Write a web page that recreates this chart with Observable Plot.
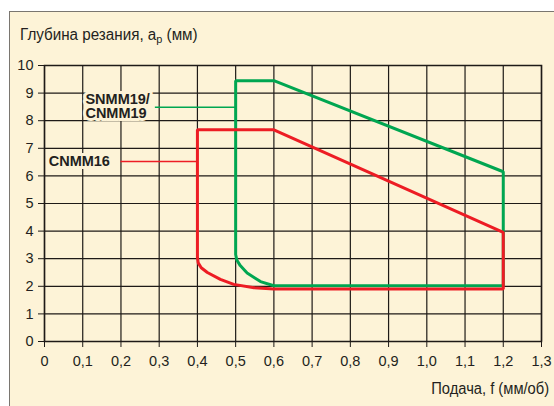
<!DOCTYPE html>
<html><head><meta charset="utf-8">
<script src="https://cdn.jsdelivr.net/npm/d3@7"></script>
<script src="https://cdn.jsdelivr.net/npm/@observablehq/plot@0.6"></script>
<style>
body{margin:0;background:#fff;width:554px;height:406px;overflow:hidden;position:relative;font-family:"Liberation Sans",Arial,sans-serif;color:#231f20;}
#frame{position:absolute;left:9px;top:11px;right:0;bottom:0;background:#fdf3d7;border-left:1.5px solid #7a7670;border-top:1.5px solid #7a7670;}
#chart{position:absolute;left:0;top:0;}
#title{position:absolute;left:20px;top:27px;font-size:16px;line-height:15px;white-space:nowrap;transform:scaleX(0.95);transform-origin:0 0;}
#title sub{font-size:11.5px;vertical-align:-3px;line-height:0;}
#xlabel{position:absolute;right:5px;top:381px;font-size:16px;line-height:15px;white-space:nowrap;transform:scaleX(0.92);transform-origin:100% 0;}
</style></head>
<body>
<div id="frame"></div>
<div id="chart"></div>
<div id="title">Глубина резания, a<sub>p</sub> (мм)</div>
<div id="xlabel">Подача, f (мм/об)</div>
<script>
// Ticks
const xTicks = [0, 0.1, 0.2, 0.3, 0.4, 0.5, 0.6, 0.7, 0.8, 0.9, 1.0, 1.1, 1.2, 1.3];
const xTickLabels = ["0", "0,1", "0,2", "0,3", "0,4", "0,5", "0,6", "0,7", "0,8", "0,9", "1,0", "1,1", "1,2", "1,3"];
const yTicks = [0, 1, 2, 3, 4, 5, 6, 7, 8, 9, 10];

// SNMM19 / CNMM19 region (green) — feed f, depth ap
const greenF  = [0.5, 0.5, 0.6, 1.2, 1.2, 0.6, 0.565, 0.53, 0.512, 0.503, 0.5];
const greenAp = [3.15, 9.45, 9.45, 6.15, 2.02, 2.02, 2.17, 2.48, 2.75, 2.95, 3.15];

// CNMM16 region (red)
const redF  = [0.4, 0.4, 0.6, 1.2, 1.2, 0.6, 0.548, 0.495, 0.46, 0.426, 0.41, 0.402, 0.4];
const redAp = [3.05, 7.67, 7.67, 3.95, 1.9, 1.9, 1.95, 2.07, 2.25, 2.5, 2.67, 2.85, 3.05];

// Labels and leader lines
const labelNames = ["SNMM19/\nCNMM19", "CNMM16"];
const labelF = [0.107, 0.011];
const labelAp = [8.52, 6.52];
const leaderF1 = [0.29, 0.2];
const leaderF2 = [0.5, 0.4];
const leaderAp = [8.49, 6.52];
const seriesColors = ["#00a651", "#ed1c24"];

const green = greenF.map((f, i) => ({f, ap: greenAp[i]}));
const red = redF.map((f, i) => ({f, ap: redAp[i]}));
const labels = labelNames.map((name, i) => ({name, f: labelF[i], ap: labelAp[i], f1: leaderF1[i], f2: leaderF2[i], lap: leaderAp[i], color: seriesColors[i]}));

const fmtX = (d) => xTickLabels[xTicks.indexOf(d)] ?? "";

const chart = Plot.plot({
  width: 554,
  height: 406,
  marginLeft: 44,
  marginRight: 13,
  marginTop: 65,
  marginBottom: 65,
  style: {background: "transparent", fontFamily: "'Liberation Sans', Arial, sans-serif", fontSize: "14.5px", color: "#231f20"},
  x: {domain: [0, 1.3], ticks: xTicks, tickFormat: fmtX, label: null},
  y: {domain: [0, 10], ticks: yTicks, label: null},
  marks: [
    Plot.gridX(xTicks, {stroke: "#1e1a17", strokeOpacity: 1, strokeWidth: 1.2}),
    Plot.gridY(yTicks, {stroke: "#1e1a17", strokeOpacity: 1, strokeWidth: 1.2}),
    Plot.frame({stroke: "#1e1a17", strokeWidth: 1.5}),
    Plot.axisX({ticks: xTicks, tickFormat: fmtX, tickSize: 6, tickPadding: 8, stroke: "#1e1a17", fill: "#231f20", label: null}),
    Plot.axisY({ticks: yTicks, tickSize: 6, tickPadding: 5, stroke: "#1e1a17", fill: "#231f20", label: null}),
    Plot.ruleY(labels, {y: "lap", x1: "f1", x2: "f2", stroke: "color", strokeWidth: 1.5}),
    Plot.text(labels, {x: "f", y: "ap", text: "name", textAnchor: "start", lineAnchor: "middle", lineHeight: 1.0, fontWeight: "bold", fontSize: 14.5, fill: "#231f20", stroke: "#fdf3d7", strokeWidth: 6, paintOrder: "stroke"}),
    Plot.line(green, {x: "f", y: "ap", stroke: seriesColors[0], strokeWidth: 3, strokeLinejoin: "miter"}),
    Plot.line(red, {x: "f", y: "ap", stroke: seriesColors[1], strokeWidth: 3, strokeLinejoin: "miter"})
  ]
});
document.getElementById("chart").appendChild(chart);
</script>
</body></html>
